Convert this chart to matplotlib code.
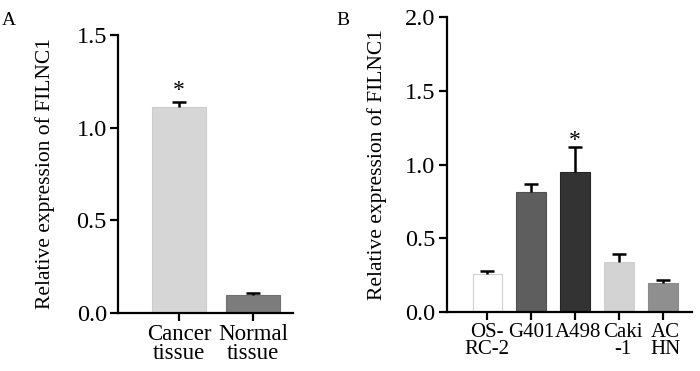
import matplotlib
matplotlib.use("Agg")
import matplotlib.pyplot as plt
from matplotlib.transforms import ScaledTranslation

plt.rcParams['font.family'] = ['Liberation Serif', 'DejaVu Serif']

# Panel A data
a_labels = ["Cancer\ntissue", "Normal\ntissue"]
a_values = [1.113, 0.097]
a_errors = [0.024, 0.009]
a_colors = ["#d6d6d6", "#7c7c7c"]
a_edges = ["#cccccc", "#707070"]

# Panel B data
b_labels = ["OS-\nRC-2", "G401", "A498", "Caki\n-1", "AC\nHN"]
b_values = [0.256, 0.81, 0.951, 0.336, 0.197]
b_errors = [0.021, 0.056, 0.168, 0.056, 0.018]
b_colors = ["#ffffff", "#5e5e5e", "#333333", "#d3d3d3", "#8f8f8f"]
b_edges = ["#d0d0d0", "#505050", "#262626", "#cfcfcf", "#8a8a8a"]

ylabel = "Relative expression of FILNC1"

fig = plt.figure(figsize=(7.0, 3.71), dpi=100)


def style(ax):
    for s in ["top", "right"]:
        ax.spines[s].set_visible(False)
    for s in ["left", "bottom"]:
        ax.spines[s].set_linewidth(1.6)
    ax.tick_params(axis="both", width=1.6, length=6, pad=2)
    ax.tick_params(axis="y", labelsize=17.5)
    ax.tick_params(axis="x", labelsize=16.5)


def upper_errorbars(ax, x, vals, errs):
    _, caps, _ = ax.errorbar(x, vals, yerr=[[0] * len(errs), errs], fmt="none",
                             ecolor="black", elinewidth=1.8, capsize=5, capthick=1.8)
    caps[0].set_visible(False)


# Panel A
axA = fig.add_axes([0.1686, 0.1563, 0.25, 0.7494])
xa = list(range(len(a_values)))
axA.bar(xa, a_values, width=0.74, color=a_colors, edgecolor=a_edges, linewidth=0.8)
upper_errorbars(axA, xa, a_values, a_errors)
axA.set_xlim(-0.824, 1.54)
axA.set_ylim(0, 1.5)
axA.set_yticks([0.0, 0.5, 1.0, 1.5])
axA.set_yticklabels(["0.0", "0.5", "1.0", "1.5"])
axA.set_xticks(xa)
axA.set_xticklabels(a_labels, linespacing=0.85)
style(axA)
axA.set_ylabel(ylabel, fontsize=15.5)
axA.yaxis.set_label_coords(-0.36, 0.5)
axA.text(xa[0], 1.20, "*", ha="center", va="center", fontsize=17)

# Panel B
axB = fig.add_axes([0.638, 0.1598, 0.35, 0.7936])
xb = list(range(len(b_values)))
axB.bar(xb, b_values, width=0.68, color=b_colors, edgecolor=b_edges, linewidth=0.8)
upper_errorbars(axB, xb, b_values, b_errors)
axB.set_xlim(-0.93, 4.65)
axB.set_ylim(0, 2.0)
axB.set_yticks([0.0, 0.5, 1.0, 1.5, 2.0])
axB.set_yticklabels(["0.0", "0.5", "1.0", "1.5", "2.0"])
axB.set_xticks(xb)
axB.set_xticklabels(b_labels, linespacing=0.85)
style(axB)
axB.tick_params(axis="x", labelsize=15)
# nudge crowded tick labels apart as in the reference
shifts_pt = [-0.5, 0, 2.2, 2.5, 1.4]
for lab, dx in zip(axB.get_xticklabels(), shifts_pt):
    lab.set_transform(lab.get_transform() + ScaledTranslation(dx / 72, 0, fig.dpi_scale_trans))
axB.set_ylabel(ylabel, fontsize=15.5)
axB.yaxis.set_label_coords(-0.244, 0.5)
axB.text(xb[2], 1.165, "*", ha="center", va="center", fontsize=17)

fig.text(0.003, 0.968, "A", fontsize=14, ha="left", va="top")
fig.text(0.481, 0.968, "B", fontsize=14, ha="left", va="top")

fig.savefig("out.png", dpi=100)
